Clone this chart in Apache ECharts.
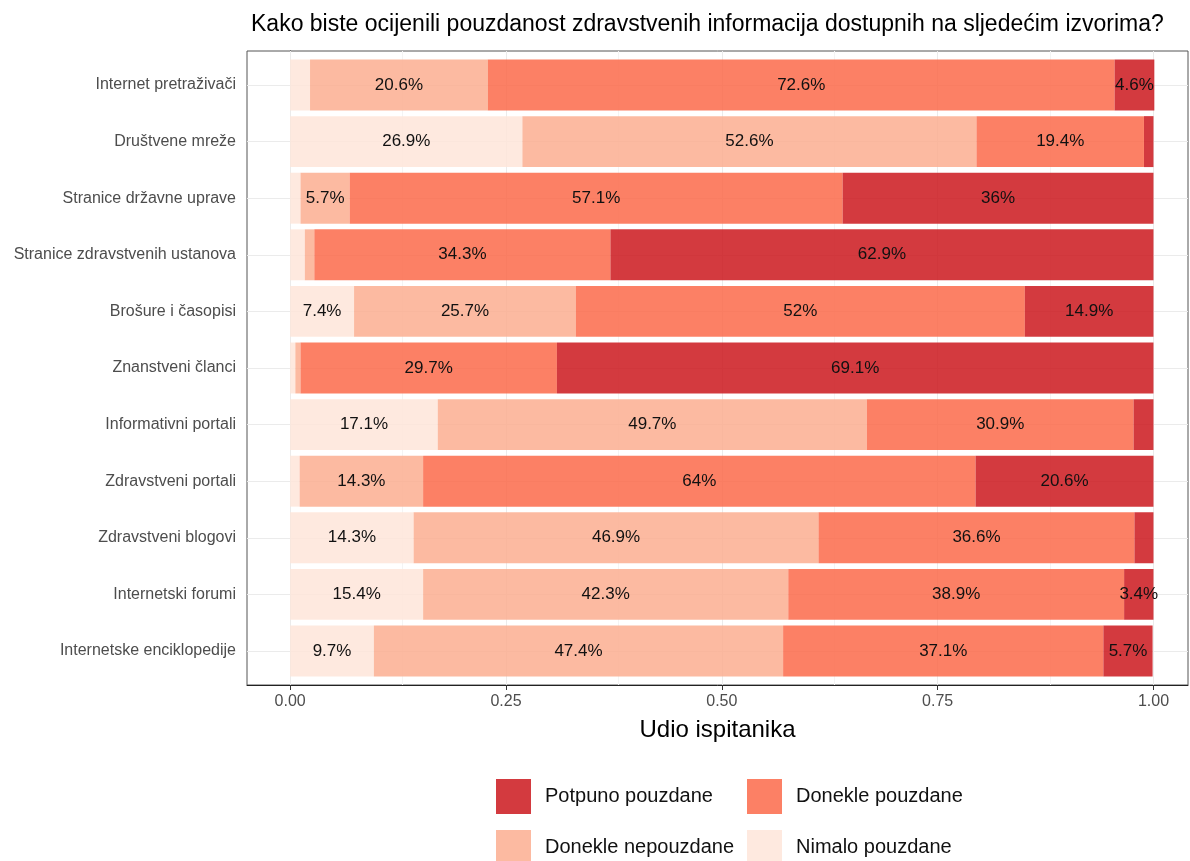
<!DOCTYPE html>
<html>
<head>
<meta charset="utf-8">
<script src="https://cdn.jsdelivr.net/npm/echarts@6/dist/echarts.min.js"></script>
<style>
  html, body { margin: 0; padding: 0; background: #fff; }
  #main-chart { width: 1190px; height: 861px; }
</style>
</head>
<body>
<div id="main-chart"></div>
<script>
// izvori (od vrha prema dnu)
const categories = [
  'Internet pretraživači', 'Društvene mreže', 'Stranice državne uprave',
  'Stranice zdravstvenih ustanova', 'Brošure i časopisi', 'Znanstveni članci',
  'Informativni portali', 'Zdravstveni portali', 'Zdravstveni blogovi',
  'Internetski forumi', 'Internetske enciklopedije'
];

// postoci po kategoriji odgovora
const nimalo = [2.3, 26.9, 1.2, 1.7, 7.4, 0.6, 17.1, 1.1, 14.3, 15.4, 9.7];
const donekleNepouzdane = [20.6, 52.6, 5.7, 1.1, 25.7, 0.6, 49.7, 14.3, 46.9, 42.3, 47.4];
const doneklePouzdane = [72.6, 19.4, 57.1, 34.3, 52, 29.7, 30.9, 64, 36.6, 38.9, 37.1];
const potpuno = [4.6, 1.1, 36, 62.9, 14.9, 69.1, 2.3, 20.6, 2.2, 3.4, 5.7];

const xTicks = [0, 0.25, 0.5, 0.75, 1];
const xMinor = [0.125, 0.375, 0.625, 0.875];

const seriesDefs = [
  { name: 'Nimalo pouzdane', data: nimalo, color: 'rgba(254,229,217,0.85)' },
  { name: 'Donekle nepouzdane', data: donekleNepouzdane, color: 'rgba(252,174,145,0.85)' },
  { name: 'Donekle pouzdane', data: doneklePouzdane, color: 'rgba(251,106,74,0.85)' },
  { name: 'Potpuno pouzdane', data: potpuno, color: 'rgba(203,24,29,0.85)' }
];

const chartDom = document.getElementById('main-chart');
const myChart = echarts.init(chartDom);

const legendPos = [
  { name: 'Potpuno pouzdane', left: 496, top: 779 },
  { name: 'Donekle pouzdane', left: 747, top: 779 },
  { name: 'Donekle nepouzdane', left: 496, top: 830 },
  { name: 'Nimalo pouzdane', left: 747, top: 830 }
];

const option = {
  animation: false,
  textStyle: { fontFamily: 'Liberation Sans, Arial, sans-serif' },
  title: {
    text: 'Kako biste ocijenili pouzdanost zdravstvenih informacija dostupnih na sljedećim izvorima?',
    left: 246,
    top: 8,
    textStyle: { fontSize: 23, fontWeight: 'normal', color: '#000' }
  },
  legend: legendPos.map(l => ({
    data: [l.name],
    left: l.left,
    top: l.top,
    padding: 0,
    itemWidth: 35,
    itemHeight: 35,
    icon: 'rect',
    textStyle: { fontSize: 20, color: '#111', padding: [0, 0, 0, 9] }
  })),
  grid: [
    // okvir panela
    { left: 247, right: 2, top: 51, bottom: 176, show: true, borderColor: '#555', borderWidth: 1, backgroundColor: '#fff' },
    // podaci
    { left: 247, right: 2, top: 56.7, bottom: 181.7 }
  ],
  xAxis: [
    {
      gridIndex: 0,
      type: 'value',
      min: -0.05,
      max: 1.04,
      name: 'Udio ispitanika',
      nameLocation: 'middle',
      nameGap: 33,
      nameTextStyle: { fontSize: 24, color: '#000' },
      axisLine: { show: true, lineStyle: { color: '#222' } },
      axisTick: { show: true, length: 5, customValues: xTicks, lineStyle: { color: '#333' } },
      axisLabel: {
        customValues: xTicks,
        fontSize: 16,
        color: '#4D4D4D',
        margin: 9,
        formatter: v => v.toFixed(2)
      },
      splitLine: { show: false }
    },
    { gridIndex: 1, type: 'value', min: -0.05, max: 1.04, show: false }
  ],
  yAxis: [
    {
      gridIndex: 0,
      type: 'value',
      min: 0,
      max: 1,
      axisLine: { show: true, lineStyle: { color: '#222' } },
      axisTick: { show: false },
      axisLabel: { show: false },
      splitLine: { show: false }
    },
    {
      gridIndex: 1,
      type: 'category',
      inverse: true,
      data: categories,
      axisLine: { show: false },
      axisTick: { show: true, alignWithLabel: true, length: 5, lineStyle: { color: '#333' } },
      axisLabel: { fontSize: 16, color: '#4D4D4D', margin: 11 },
      splitLine: { show: false }
    }
  ],
  series: [
    {
      type: 'line',
      xAxisIndex: 0,
      yAxisIndex: 0,
      data: [],
      silent: true,
      markLine: {
        z: 1,
        silent: true,
        symbol: 'none',
        label: { show: false },
        lineStyle: { type: 'solid', color: '#EBEBEB', width: 1 },
        data: xTicks.map(v => ({ xAxis: v }))
          .concat(xMinor.map(v => ({ xAxis: v, lineStyle: { color: '#F4F4F4', width: 1 } })))
      }
    },
    {
      type: 'line',
      xAxisIndex: 1,
      yAxisIndex: 1,
      data: [],
      silent: true,
      markLine: {
        z: 1,
        silent: true,
        symbol: 'none',
        label: { show: false },
        lineStyle: { type: 'solid', color: '#EBEBEB', width: 1 },
        data: categories.map(c => ({ yAxis: c }))
      }
    }
  ].concat(seriesDefs.map(s => ({
    name: s.name,
    type: 'bar',
    stack: 'ukupno',
    xAxisIndex: 1,
    yAxisIndex: 1,
    barWidth: '90%',
    z: 2,
    itemStyle: { color: s.color },
    label: {
      show: true,
      position: 'inside',
      fontSize: 17,
      color: '#111',
      formatter: p => (s.data[p.dataIndex] >= 3 ? s.data[p.dataIndex] + '%' : '')
    },
    data: s.data.map(v => v / 100)
  })))
};

myChart.setOption(option);
window.addEventListener('resize', myChart.resize);
</script>
</body>
</html>
